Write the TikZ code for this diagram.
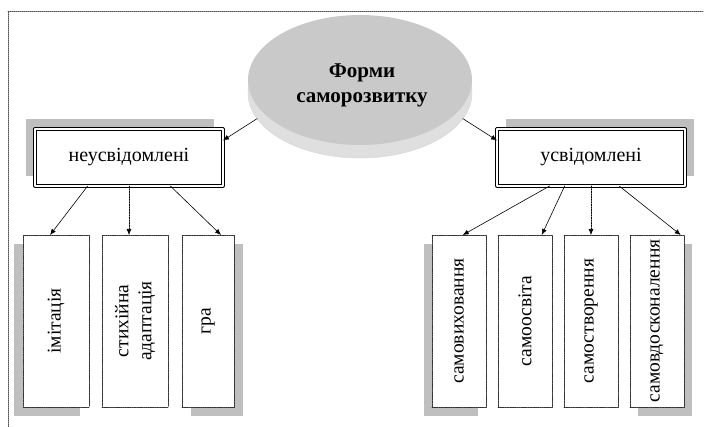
\documentclass[tikz,border=0pt]{standalone}
\usepackage{fontspec}
\setmainfont{Liberation Serif}
\usetikzlibrary{
	calc, arrows.meta,
	shapes.geometric, backgrounds
}

\begin{document}
\begin{tikzpicture}[
	% propiedades generales del dibujo
	x = 1pt, y = -1pt,
	line join = round, line cap = round,
	% 	a. disco central
	disc/.style = {
		ellipse,
		minimum width = 224pt, minimum height = 130pt,
		inner sep = 0pt, outer sep = 0pt
	},
	% 	b. cajas de las dos clases
	header/.style = {
		draw, double, double distance = 1.2pt,
		line width = 1pt, fill = white,
		minimum width = 188pt, minimum height = 57pt,
		inner sep = 0pt, outer sep = 0pt,
		font = \fontsize{20}{24}\selectfont
	},
	% 	c. cajas verticales:
	%		el argumento #1 indica el ancho
	leaf/.style = {
		draw = black!80, fill = white,
		dash pattern = on 1.6pt off 0.7pt, line width = 0.6pt,
		minimum width = #1, minimum height = 172pt,
		inner sep = 0pt, outer sep = 0pt,
		font = \fontsize{19.5}{24}\selectfont
	},
	%	d. sombras grises
	greyshade/.style = {
		fill = gray!50
	},
	%	e. flechas
	arrow/.style = {
		line width = 0.6pt,
		arrows = -{Latex[length = 6pt, width = 5pt]}
	},
]

	% márgenes del dibujo
	\useasboundingbox (0,0) rectangle (704,427);
	\draw[gray!60!black, line width = 0.8pt, dash pattern = on 1pt off 1pt]
		(8,427) -- (8,11) -- (704,11);

	% disco central
	\node[disc, fill = gray!25, draw = gray!35] (rim) at (360,93) {};
	\node[disc, fill = gray!42] (forms) at (360,80) {};
	\node[font = \bfseries\fontsize{21}{25}\selectfont, align = center]
		(title) at (362,85) {Форми\\саморозвитку};

	% las dos clases
	\node[header] (neus) at (129,157.5) {неусвідомлені};
	\node[header] (usv) at (591,157.5) {усвідомлені};

	% cajas verticales
	\node[leaf = 66pt] (imit) at (56,321) {\rotatebox{90}{імітація}};
	\node[leaf = 66pt] (adapt) at (135,321)
		{\rotatebox{90}{\begin{tabular}{@{}c@{}}стихійна\\[-1pt]адаптація\end{tabular}}};
	\node[leaf = 52pt] (gra) at (208,321) {\rotatebox{90}{гра}};

	\node[leaf = 54pt] (vykh) at (459,321) {\rotatebox{90}{самовиховання}};
	\node[leaf = 54pt] (osv) at (525,321) {\rotatebox{90}{самоосвіта}};
	\node[leaf = 54pt] (tvor) at (591,321) {\rotatebox{90}{самостворення}};
	\node[leaf = 54pt] (vdos) at (657,321) {\rotatebox{90}{самовдосконалення}};

	% sombras
	\begin{scope}[on background layer]
		\fill[greyshade] ([shift = {(-9,-10)}]neus.north west)
			rectangle ([shift = {(-9,-10)}]neus.south east);
		\fill[greyshade] ([shift = {(9,-10)}]usv.north west)
			rectangle ([shift = {(9,-10)}]usv.south east);
		\fill[greyshade] ([shift = {(-9,9)}]imit.north west)
			rectangle ([shift = {(-9,9)}]imit.south east);
		\fill[greyshade] ([shift = {(9,9)}]gra.north west)
			rectangle ([shift = {(9,9)}]gra.south east);
		\fill[greyshade] ([shift = {(-8,9)}]vykh.north west)
			rectangle ([shift = {(-8,9)}]vykh.south east);
		\fill[greyshade] ([shift = {(8,9)}]vdos.north west)
			rectangle ([shift = {(8,9)}]vdos.south east);
	\end{scope}

	% flechas desde el disco
	\draw[arrow] (rim.194) -- ($(neus.north east)!0.2!(neus.south east)$);
	\draw[arrow] (rim.-14) -- ($(usv.north west)!0.2!(usv.south west)$);

	% flechas hacia las cajas verticales
	\draw[arrow]
		($(neus.south west)!0.28!(neus.south east)$)
		-- ($(imit.north west)!0.41!(imit.north east)$);
	\draw[arrow, dash pattern = on 1.6pt off 1pt]
		(neus.south) -- (neus.south |- adapt.north);
	\draw[arrow]
		($(neus.south west)!0.72!(neus.south east)$)
		-- ($(gra.north west)!0.75!(gra.north east)$);

	\draw[arrow]
		($(usv.south west)!0.28!(usv.south east)$)
		-- ($(vykh.north west)!0.57!(vykh.north east)$);
	\draw[arrow]
		($(usv.south west)!0.36!(usv.south east)$)
		-- ($(osv.north west)!0.81!(osv.north east)$);
	\draw[arrow, dash pattern = on 1.6pt off 1pt]
		(usv.south) -- (tvor.north);
	\draw[arrow]
		($(usv.south west)!0.65!(usv.south east)$)
		-- ($(vdos.north west)!0.94!(vdos.north east)$);

\end{tikzpicture}
\end{document}
